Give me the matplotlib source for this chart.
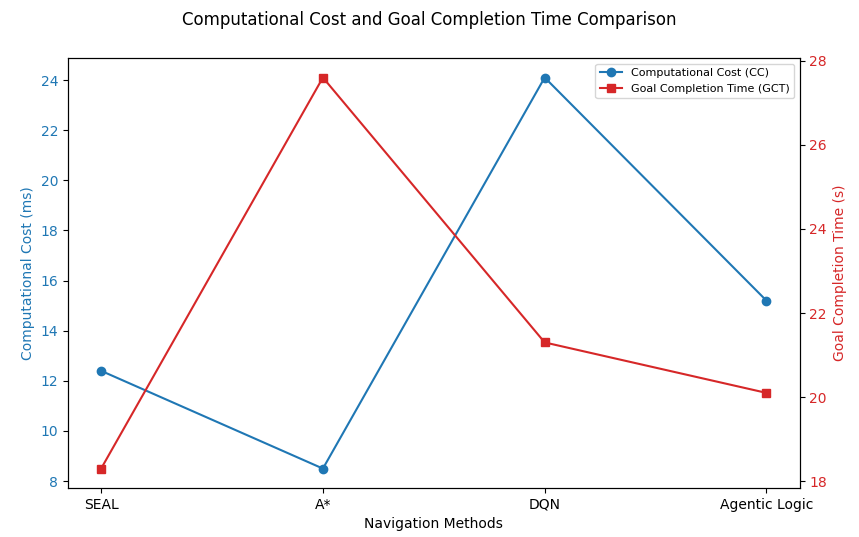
import matplotlib
matplotlib.use("Agg")
import matplotlib.pyplot as plt

methods = ["SEAL", "A*", "DQN", "Agentic Logic"]
cc_ms = [12.4, 8.5, 24.1, 15.2]
gct_s = [18.3, 27.6, 21.3, 20.1]

fig, ax1 = plt.subplots(figsize=(8.59, 5.37), dpi=100)
fig.subplots_adjust(left=0.079, right=0.931, top=0.892, bottom=0.091)

l1, = ax1.plot(methods, cc_ms, marker='o', color='tab:blue', label='Computational Cost (CC)')
ax1.set_xlabel('Navigation Methods')
ax1.set_ylabel('Computational Cost (ms)', color='tab:blue')
ax1.tick_params(axis='y', labelcolor='tab:blue')

ax2 = ax1.twinx()
l2, = ax2.plot(methods, gct_s, marker='s', color='tab:red', label='Goal Completion Time (GCT)')
ax2.set_ylabel('Goal Completion Time (s)', color='tab:red')
ax2.tick_params(axis='y', labelcolor='tab:red')

ax1.legend([l1, l2], [l1.get_label(), l2.get_label()], loc='upper right', fontsize=8)
fig.suptitle('Computational Cost and Goal Completion Time Comparison', fontsize=12)

fig.savefig('out.png', dpi=100)
